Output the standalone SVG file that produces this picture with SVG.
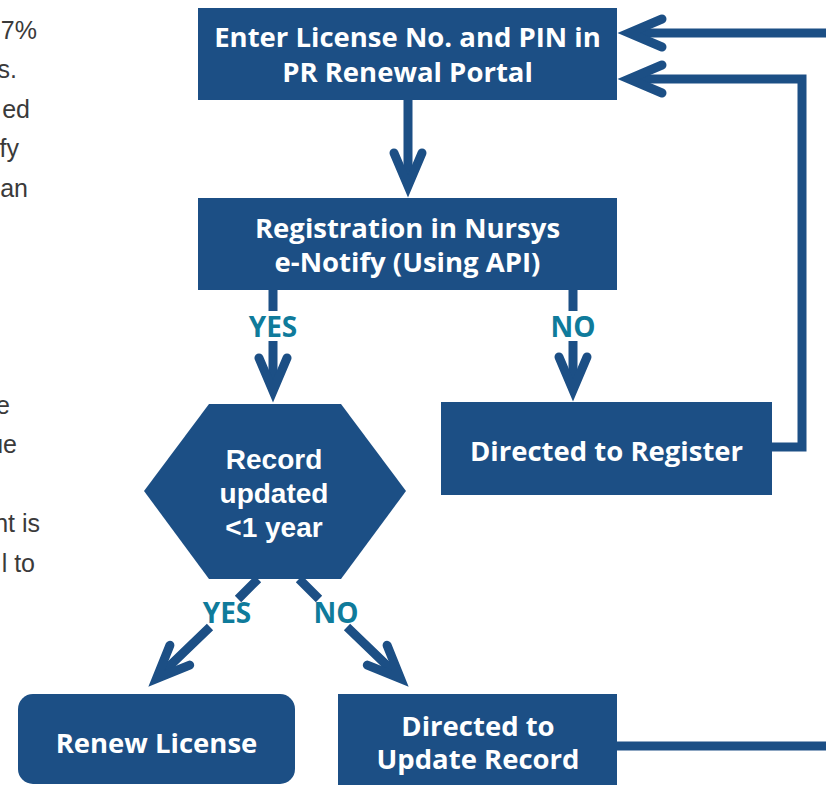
<svg xmlns="http://www.w3.org/2000/svg" xmlns:xlink="http://www.w3.org/1999/xlink" width="826" height="785" viewBox="0 0 826 785">
<style>
.box{fill:#1c4f85;}
.bt{font-family:"Open Sans","Noto Sans","Liberation Sans",sans-serif;font-weight:700;font-size:27.5px;fill:#ffffff;text-anchor:middle;}
.ht{font-family:"Liberation Sans",Arial,sans-serif;font-weight:700;font-size:28px;fill:#ffffff;text-anchor:middle;}
.lbl{font-family:"Open Sans","Noto Sans","Liberation Sans",sans-serif;font-weight:700;font-size:28px;fill:#0f7b9b;text-anchor:middle;}
.side{font-family:"Liberation Sans",Arial,sans-serif;font-size:25px;fill:#3a3a3a;text-anchor:end;}
.ln{fill:none;stroke:#1c4f85;stroke-width:9;stroke-linejoin:miter;}
</style>
<defs>
<path id="chev" d="M-45,-14 L-12,0 L-45,14" fill="none" stroke="#1c4f85" stroke-width="9" stroke-linecap="round" stroke-linejoin="miter"/>
</defs>
<g id="side-text">
<text class="side" x="37" y="39">7%</text>
<text class="side" x="17" y="78">s.</text>
<text class="side" x="30" y="118">ed</text>
<text class="side" x="19" y="157">fy</text>
<text class="side" x="28" y="197">an</text>
<text class="side" x="10" y="414">e</text>
<text class="side" x="17" y="453">ue</text>
<text class="side" x="40" y="532">nt is</text>
<text class="side" x="35" y="572">l to</text>
</g>
<g id="connectors">
<path class="ln" d="M408,100 V186"/>
<use xlink:href="#chev" transform="translate(408,198) rotate(90)"/>
<path class="ln" d="M273,290 V311 M273,341 V391"/>
<use xlink:href="#chev" transform="translate(273,403) rotate(90)"/>
<path class="ln" d="M573,290 V311 M573,341 V390"/>
<use xlink:href="#chev" transform="translate(573,402) rotate(90)"/>
<path class="ln" d="M772,447 H802 V79 H629"/>
<use xlink:href="#chev" transform="translate(617,79) rotate(180)"/>
<path class="ln" d="M617,746 H845 V33 H629"/>
<use xlink:href="#chev" transform="translate(617,33) rotate(180)"/>
<path class="ln" d="M258,579 L238,599 M210,627 L156.5,678.5"/>
<use xlink:href="#chev" transform="translate(148,687) rotate(135)"/>
<path class="ln" d="M299,579 L319,599 M347,627 L400.5,678.5"/>
<use xlink:href="#chev" transform="translate(409,687) rotate(45)"/>
<text class="lbl" x="273" y="337">YES</text>
<text class="lbl" x="573" y="337">NO</text>
<text class="lbl" x="227" y="623">YES</text>
<text class="lbl" x="336" y="623">NO</text>
</g>
<g id="enter">
<rect class="box" x="198" y="8" width="419" height="92"/>
<text class="bt" x="407.5" y="47">Enter License No. and PIN in</text>
<text class="bt" x="407.5" y="82">PR Renewal Portal</text>
</g>
<g id="registration">
<rect class="box" x="198" y="198" width="419" height="92"/>
<text class="bt" x="407.5" y="238">Registration in Nursys</text>
<text class="bt" x="407.5" y="272">e-Notify (Using API)</text>
</g>
<g id="register">
<rect class="box" x="441" y="402" width="331" height="93"/>
<text class="bt" x="606.5" y="461">Directed to Register</text>
</g>
<g id="record">
<polygon class="box" points="209,404 341,404 406,491 341,579 209,579 144,491"/>
<text class="ht" x="274" y="469">Record</text>
<text class="ht" x="274" y="503">updated</text>
<text class="ht" x="274" y="537">&lt;1 year</text>
</g>
<g id="renew">
<rect class="box" x="18" y="694" width="277" height="90" rx="15" ry="15"/>
<text class="bt" x="156.5" y="753">Renew License</text>
</g>
<g id="update">
<rect class="box" x="338" y="694" width="279" height="95"/>
<text class="bt" x="478" y="736">Directed to</text>
<text class="bt" x="478" y="769">Update Record</text>
</g>
</svg>
